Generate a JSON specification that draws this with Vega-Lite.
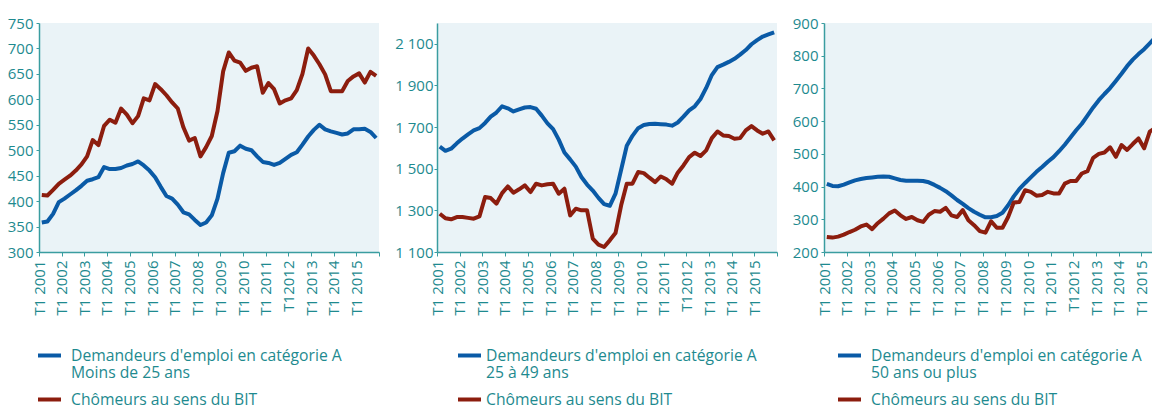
{
 "$schema": "https://vega.github.io/schema/vega-lite/v6.json",
 "padding": {"top": 16, "left": 0, "right": 0, "bottom": 0},
 "autosize": {"type": "pad"},
 "background": "white",
 "spacing": 0,
 "config": {
  "font": "Open Sans",
  "view": {"fill": "#eaf3f7", "stroke": null},
  "axis": {"labelColor": "#1e8a8f", "labelFont": "Open Sans", "labelFontSize": 15, "domainColor": "#3a9da0", "tickColor": "#3a9da0", "domainWidth": 1.5, "grid": false, "title": null},
  "legend": {"labelColor": "#1e8a8f", "labelFont": "Open Sans", "labelFontSize": 15.7, "symbolType": "stroke", "symbolSize": 529, "symbolStrokeWidth": 4, "labelLimit": 0, "rowPadding": 5, "padding": 0, "title": null, "direction": "vertical", "orient": "none", "legendY": 319},
  "line": {"strokeWidth": 4, "strokeJoin": "round"}
 },
 "datasets": {
  "p1": [
   {"s":"A","q":"2001-01-01","v":358},{"s":"A","q":"2001-04-01","v":360},{"s":"A","q":"2001-07-01","v":375},{"s":"A","q":"2001-10-01","v":398},
   {"s":"A","q":"2002-01-01","v":405},{"s":"A","q":"2002-04-01","v":413},{"s":"A","q":"2002-07-01","v":421},{"s":"A","q":"2002-10-01","v":430},
   {"s":"A","q":"2003-01-01","v":440},{"s":"A","q":"2003-04-01","v":443},{"s":"A","q":"2003-07-01","v":447},{"s":"A","q":"2003-10-01","v":467},
   {"s":"A","q":"2004-01-01","v":463},{"s":"A","q":"2004-04-01","v":463},{"s":"A","q":"2004-07-01","v":465},{"s":"A","q":"2004-10-01","v":470},
   {"s":"A","q":"2005-01-01","v":473},{"s":"A","q":"2005-04-01","v":478},{"s":"A","q":"2005-07-01","v":470},{"s":"A","q":"2005-10-01","v":460},
   {"s":"A","q":"2006-01-01","v":447},{"s":"A","q":"2006-04-01","v":428},{"s":"A","q":"2006-07-01","v":410},{"s":"A","q":"2006-10-01","v":405},
   {"s":"A","q":"2007-01-01","v":393},{"s":"A","q":"2007-04-01","v":378},{"s":"A","q":"2007-07-01","v":374},{"s":"A","q":"2007-10-01","v":363},
   {"s":"A","q":"2008-01-01","v":353},{"s":"A","q":"2008-04-01","v":358},{"s":"A","q":"2008-07-01","v":372},{"s":"A","q":"2008-10-01","v":405},
   {"s":"A","q":"2009-01-01","v":455},{"s":"A","q":"2009-04-01","v":495},{"s":"A","q":"2009-07-01","v":498},{"s":"A","q":"2009-10-01","v":509},
   {"s":"A","q":"2010-01-01","v":503},{"s":"A","q":"2010-04-01","v":500},{"s":"A","q":"2010-07-01","v":488},{"s":"A","q":"2010-10-01","v":477},
   {"s":"A","q":"2011-01-01","v":475},{"s":"A","q":"2011-04-01","v":471},{"s":"A","q":"2011-07-01","v":475},{"s":"A","q":"2011-10-01","v":483},
   {"s":"A","q":"2012-01-01","v":491},{"s":"A","q":"2012-04-01","v":496},{"s":"A","q":"2012-07-01","v":511},{"s":"A","q":"2012-10-01","v":527},
   {"s":"A","q":"2013-01-01","v":540},{"s":"A","q":"2013-04-01","v":550},{"s":"A","q":"2013-07-01","v":541},{"s":"A","q":"2013-10-01","v":537},
   {"s":"A","q":"2014-01-01","v":534},{"s":"A","q":"2014-04-01","v":531},{"s":"A","q":"2014-07-01","v":533},{"s":"A","q":"2014-10-01","v":541},
   {"s":"A","q":"2015-01-01","v":541},{"s":"A","q":"2015-04-01","v":542},{"s":"A","q":"2015-07-01","v":536},{"s":"A","q":"2015-10-01","v":524},
   {"s":"BIT","q":"2001-01-01","v":412},{"s":"BIT","q":"2001-04-01","v":411},{"s":"BIT","q":"2001-07-01","v":422},{"s":"BIT","q":"2001-10-01","v":434},
   {"s":"BIT","q":"2002-01-01","v":442},{"s":"BIT","q":"2002-04-01","v":450},{"s":"BIT","q":"2002-07-01","v":460},{"s":"BIT","q":"2002-10-01","v":472},
   {"s":"BIT","q":"2003-01-01","v":488},{"s":"BIT","q":"2003-04-01","v":520},{"s":"BIT","q":"2003-07-01","v":510},{"s":"BIT","q":"2003-10-01","v":548},
   {"s":"BIT","q":"2004-01-01","v":560},{"s":"BIT","q":"2004-04-01","v":554},{"s":"BIT","q":"2004-07-01","v":582},{"s":"BIT","q":"2004-10-01","v":570},
   {"s":"BIT","q":"2005-01-01","v":553},{"s":"BIT","q":"2005-04-01","v":567},{"s":"BIT","q":"2005-07-01","v":602},{"s":"BIT","q":"2005-10-01","v":598},
   {"s":"BIT","q":"2006-01-01","v":630},{"s":"BIT","q":"2006-04-01","v":620},{"s":"BIT","q":"2006-07-01","v":608},{"s":"BIT","q":"2006-10-01","v":594},
   {"s":"BIT","q":"2007-01-01","v":582},{"s":"BIT","q":"2007-04-01","v":545},{"s":"BIT","q":"2007-07-01","v":519},{"s":"BIT","q":"2007-10-01","v":524},
   {"s":"BIT","q":"2008-01-01","v":488},{"s":"BIT","q":"2008-04-01","v":506},{"s":"BIT","q":"2008-07-01","v":528},{"s":"BIT","q":"2008-10-01","v":577},
   {"s":"BIT","q":"2009-01-01","v":655},{"s":"BIT","q":"2009-04-01","v":692},{"s":"BIT","q":"2009-07-01","v":676},{"s":"BIT","q":"2009-10-01","v":672},
   {"s":"BIT","q":"2010-01-01","v":656},{"s":"BIT","q":"2010-04-01","v":662},{"s":"BIT","q":"2010-07-01","v":665},{"s":"BIT","q":"2010-10-01","v":613},
   {"s":"BIT","q":"2011-01-01","v":632},{"s":"BIT","q":"2011-04-01","v":620},{"s":"BIT","q":"2011-07-01","v":592},{"s":"BIT","q":"2011-10-01","v":598},
   {"s":"BIT","q":"2012-01-01","v":602},{"s":"BIT","q":"2012-04-01","v":618},{"s":"BIT","q":"2012-07-01","v":650},{"s":"BIT","q":"2012-10-01","v":700},
   {"s":"BIT","q":"2013-01-01","v":686},{"s":"BIT","q":"2013-04-01","v":669},{"s":"BIT","q":"2013-07-01","v":649},{"s":"BIT","q":"2013-10-01","v":616},
   {"s":"BIT","q":"2014-01-01","v":616},{"s":"BIT","q":"2014-04-01","v":616},{"s":"BIT","q":"2014-07-01","v":636},{"s":"BIT","q":"2014-10-01","v":645},
   {"s":"BIT","q":"2015-01-01","v":651},{"s":"BIT","q":"2015-04-01","v":633},{"s":"BIT","q":"2015-07-01","v":654},{"s":"BIT","q":"2015-10-01","v":646}
  ],
  "p2": [
   {"s":"A","q":"2001-01-01","v":1606},{"s":"A","q":"2001-04-01","v":1586},{"s":"A","q":"2001-07-01","v":1596},{"s":"A","q":"2001-10-01","v":1622},
   {"s":"A","q":"2002-01-01","v":1645},{"s":"A","q":"2002-04-01","v":1665},{"s":"A","q":"2002-07-01","v":1684},{"s":"A","q":"2002-10-01","v":1695},
   {"s":"A","q":"2003-01-01","v":1720},{"s":"A","q":"2003-04-01","v":1750},{"s":"A","q":"2003-07-01","v":1770},{"s":"A","q":"2003-10-01","v":1800},
   {"s":"A","q":"2004-01-01","v":1790},{"s":"A","q":"2004-04-01","v":1775},{"s":"A","q":"2004-07-01","v":1785},{"s":"A","q":"2004-10-01","v":1794},
   {"s":"A","q":"2005-01-01","v":1796},{"s":"A","q":"2005-04-01","v":1788},{"s":"A","q":"2005-07-01","v":1755},{"s":"A","q":"2005-10-01","v":1718},
   {"s":"A","q":"2006-01-01","v":1690},{"s":"A","q":"2006-04-01","v":1640},{"s":"A","q":"2006-07-01","v":1578},{"s":"A","q":"2006-10-01","v":1545},
   {"s":"A","q":"2007-01-01","v":1510},{"s":"A","q":"2007-04-01","v":1460},{"s":"A","q":"2007-07-01","v":1424},{"s":"A","q":"2007-10-01","v":1395},
   {"s":"A","q":"2008-01-01","v":1360},{"s":"A","q":"2008-04-01","v":1330},{"s":"A","q":"2008-07-01","v":1322},{"s":"A","q":"2008-10-01","v":1380},
   {"s":"A","q":"2009-01-01","v":1495},{"s":"A","q":"2009-04-01","v":1610},{"s":"A","q":"2009-07-01","v":1658},{"s":"A","q":"2009-10-01","v":1695},
   {"s":"A","q":"2010-01-01","v":1710},{"s":"A","q":"2010-04-01","v":1715},{"s":"A","q":"2010-07-01","v":1716},{"s":"A","q":"2010-10-01","v":1714},
   {"s":"A","q":"2011-01-01","v":1712},{"s":"A","q":"2011-04-01","v":1707},{"s":"A","q":"2011-07-01","v":1722},{"s":"A","q":"2011-10-01","v":1750},
   {"s":"A","q":"2012-01-01","v":1780},{"s":"A","q":"2012-04-01","v":1800},{"s":"A","q":"2012-07-01","v":1835},{"s":"A","q":"2012-10-01","v":1888},
   {"s":"A","q":"2013-01-01","v":1950},{"s":"A","q":"2013-04-01","v":1988},{"s":"A","q":"2013-07-01","v":2000},{"s":"A","q":"2013-10-01","v":2013},
   {"s":"A","q":"2014-01-01","v":2028},{"s":"A","q":"2014-04-01","v":2048},{"s":"A","q":"2014-07-01","v":2070},{"s":"A","q":"2014-10-01","v":2098},
   {"s":"A","q":"2015-01-01","v":2118},{"s":"A","q":"2015-04-01","v":2135},{"s":"A","q":"2015-07-01","v":2145},{"s":"A","q":"2015-10-01","v":2155},
   {"s":"BIT","q":"2001-01-01","v":1284},{"s":"BIT","q":"2001-04-01","v":1262},{"s":"BIT","q":"2001-07-01","v":1257},{"s":"BIT","q":"2001-10-01","v":1268},
   {"s":"BIT","q":"2002-01-01","v":1268},{"s":"BIT","q":"2002-04-01","v":1264},{"s":"BIT","q":"2002-07-01","v":1260},{"s":"BIT","q":"2002-10-01","v":1271},
   {"s":"BIT","q":"2003-01-01","v":1364},{"s":"BIT","q":"2003-04-01","v":1359},{"s":"BIT","q":"2003-07-01","v":1332},{"s":"BIT","q":"2003-10-01","v":1383},
   {"s":"BIT","q":"2004-01-01","v":1415},{"s":"BIT","q":"2004-04-01","v":1385},{"s":"BIT","q":"2004-07-01","v":1401},{"s":"BIT","q":"2004-10-01","v":1420},
   {"s":"BIT","q":"2005-01-01","v":1388},{"s":"BIT","q":"2005-04-01","v":1428},{"s":"BIT","q":"2005-07-01","v":1420},{"s":"BIT","q":"2005-10-01","v":1425},
   {"s":"BIT","q":"2006-01-01","v":1428},{"s":"BIT","q":"2006-04-01","v":1380},{"s":"BIT","q":"2006-07-01","v":1404},{"s":"BIT","q":"2006-10-01","v":1276},
   {"s":"BIT","q":"2007-01-01","v":1308},{"s":"BIT","q":"2007-04-01","v":1300},{"s":"BIT","q":"2007-07-01","v":1300},{"s":"BIT","q":"2007-10-01","v":1164},
   {"s":"BIT","q":"2008-01-01","v":1135},{"s":"BIT","q":"2008-04-01","v":1124},{"s":"BIT","q":"2008-07-01","v":1156},{"s":"BIT","q":"2008-10-01","v":1191},
   {"s":"BIT","q":"2009-01-01","v":1324},{"s":"BIT","q":"2009-04-01","v":1428},{"s":"BIT","q":"2009-07-01","v":1428},{"s":"BIT","q":"2009-10-01","v":1484},
   {"s":"BIT","q":"2010-01-01","v":1479},{"s":"BIT","q":"2010-04-01","v":1457},{"s":"BIT","q":"2010-07-01","v":1436},{"s":"BIT","q":"2010-10-01","v":1463},
   {"s":"BIT","q":"2011-01-01","v":1449},{"s":"BIT","q":"2011-04-01","v":1428},{"s":"BIT","q":"2011-07-01","v":1481},{"s":"BIT","q":"2011-10-01","v":1516},
   {"s":"BIT","q":"2012-01-01","v":1556},{"s":"BIT","q":"2012-04-01","v":1577},{"s":"BIT","q":"2012-07-01","v":1561},{"s":"BIT","q":"2012-10-01","v":1588},
   {"s":"BIT","q":"2013-01-01","v":1647},{"s":"BIT","q":"2013-04-01","v":1679},{"s":"BIT","q":"2013-07-01","v":1660},{"s":"BIT","q":"2013-10-01","v":1657},
   {"s":"BIT","q":"2014-01-01","v":1644},{"s":"BIT","q":"2014-04-01","v":1647},{"s":"BIT","q":"2014-07-01","v":1684},{"s":"BIT","q":"2014-10-01","v":1705},
   {"s":"BIT","q":"2015-01-01","v":1684},{"s":"BIT","q":"2015-04-01","v":1668},{"s":"BIT","q":"2015-07-01","v":1679},{"s":"BIT","q":"2015-10-01","v":1636}
  ],
  "p3": [
   {"s":"A","q":"2001-01-01","v":408},{"s":"A","q":"2001-04-01","v":402},{"s":"A","q":"2001-07-01","v":401},{"s":"A","q":"2001-10-01","v":406},
   {"s":"A","q":"2002-01-01","v":413},{"s":"A","q":"2002-04-01","v":419},{"s":"A","q":"2002-07-01","v":423},{"s":"A","q":"2002-10-01","v":426},
   {"s":"A","q":"2003-01-01","v":428},{"s":"A","q":"2003-04-01","v":430},{"s":"A","q":"2003-07-01","v":431},{"s":"A","q":"2003-10-01","v":430},
   {"s":"A","q":"2004-01-01","v":425},{"s":"A","q":"2004-04-01","v":420},{"s":"A","q":"2004-07-01","v":418},{"s":"A","q":"2004-10-01","v":418},
   {"s":"A","q":"2005-01-01","v":418},{"s":"A","q":"2005-04-01","v":417},{"s":"A","q":"2005-07-01","v":413},{"s":"A","q":"2005-10-01","v":405},
   {"s":"A","q":"2006-01-01","v":396},{"s":"A","q":"2006-04-01","v":386},{"s":"A","q":"2006-07-01","v":373},{"s":"A","q":"2006-10-01","v":359},
   {"s":"A","q":"2007-01-01","v":347},{"s":"A","q":"2007-04-01","v":334},{"s":"A","q":"2007-07-01","v":323},{"s":"A","q":"2007-10-01","v":314},
   {"s":"A","q":"2008-01-01","v":306},{"s":"A","q":"2008-04-01","v":306},{"s":"A","q":"2008-07-01","v":310},{"s":"A","q":"2008-10-01","v":320},
   {"s":"A","q":"2009-01-01","v":343},{"s":"A","q":"2009-04-01","v":370},{"s":"A","q":"2009-07-01","v":393},{"s":"A","q":"2009-10-01","v":411},
   {"s":"A","q":"2010-01-01","v":428},{"s":"A","q":"2010-04-01","v":445},{"s":"A","q":"2010-07-01","v":460},{"s":"A","q":"2010-10-01","v":476},
   {"s":"A","q":"2011-01-01","v":490},{"s":"A","q":"2011-04-01","v":508},{"s":"A","q":"2011-07-01","v":528},{"s":"A","q":"2011-10-01","v":550},
   {"s":"A","q":"2012-01-01","v":572},{"s":"A","q":"2012-04-01","v":592},{"s":"A","q":"2012-07-01","v":617},{"s":"A","q":"2012-10-01","v":642},
   {"s":"A","q":"2013-01-01","v":664},{"s":"A","q":"2013-04-01","v":683},{"s":"A","q":"2013-07-01","v":701},{"s":"A","q":"2013-10-01","v":723},
   {"s":"A","q":"2014-01-01","v":745},{"s":"A","q":"2014-04-01","v":768},{"s":"A","q":"2014-07-01","v":788},{"s":"A","q":"2014-10-01","v":805},
   {"s":"A","q":"2015-01-01","v":820},{"s":"A","q":"2015-04-01","v":838},{"s":"A","q":"2015-07-01","v":856},{"s":"A","q":"2015-10-01","v":872},
   {"s":"BIT","q":"2001-01-01","v":246},{"s":"BIT","q":"2001-04-01","v":244},{"s":"BIT","q":"2001-07-01","v":247},{"s":"BIT","q":"2001-10-01","v":253},
   {"s":"BIT","q":"2002-01-01","v":261},{"s":"BIT","q":"2002-04-01","v":268},{"s":"BIT","q":"2002-07-01","v":278},{"s":"BIT","q":"2002-10-01","v":284},
   {"s":"BIT","q":"2003-01-01","v":270},{"s":"BIT","q":"2003-04-01","v":288},{"s":"BIT","q":"2003-07-01","v":302},{"s":"BIT","q":"2003-10-01","v":318},
   {"s":"BIT","q":"2004-01-01","v":327},{"s":"BIT","q":"2004-04-01","v":312},{"s":"BIT","q":"2004-07-01","v":301},{"s":"BIT","q":"2004-10-01","v":307},
   {"s":"BIT","q":"2005-01-01","v":297},{"s":"BIT","q":"2005-04-01","v":292},{"s":"BIT","q":"2005-07-01","v":314},{"s":"BIT","q":"2005-10-01","v":325},
   {"s":"BIT","q":"2006-01-01","v":323},{"s":"BIT","q":"2006-04-01","v":335},{"s":"BIT","q":"2006-07-01","v":312},{"s":"BIT","q":"2006-10-01","v":307},
   {"s":"BIT","q":"2007-01-01","v":328},{"s":"BIT","q":"2007-04-01","v":297},{"s":"BIT","q":"2007-07-01","v":282},{"s":"BIT","q":"2007-10-01","v":264},
   {"s":"BIT","q":"2008-01-01","v":259},{"s":"BIT","q":"2008-04-01","v":294},{"s":"BIT","q":"2008-07-01","v":274},{"s":"BIT","q":"2008-10-01","v":274},
   {"s":"BIT","q":"2009-01-01","v":307},{"s":"BIT","q":"2009-04-01","v":351},{"s":"BIT","q":"2009-07-01","v":353},{"s":"BIT","q":"2009-10-01","v":389},
   {"s":"BIT","q":"2010-01-01","v":384},{"s":"BIT","q":"2010-04-01","v":372},{"s":"BIT","q":"2010-07-01","v":374},{"s":"BIT","q":"2010-10-01","v":384},
   {"s":"BIT","q":"2011-01-01","v":379},{"s":"BIT","q":"2011-04-01","v":379},{"s":"BIT","q":"2011-07-01","v":409},{"s":"BIT","q":"2011-10-01","v":417},
   {"s":"BIT","q":"2012-01-01","v":417},{"s":"BIT","q":"2012-04-01","v":440},{"s":"BIT","q":"2012-07-01","v":447},{"s":"BIT","q":"2012-10-01","v":488},
   {"s":"BIT","q":"2013-01-01","v":500},{"s":"BIT","q":"2013-04-01","v":504},{"s":"BIT","q":"2013-07-01","v":520},{"s":"BIT","q":"2013-10-01","v":491},
   {"s":"BIT","q":"2014-01-01","v":527},{"s":"BIT","q":"2014-04-01","v":512},{"s":"BIT","q":"2014-07-01","v":530},{"s":"BIT","q":"2014-10-01","v":547},
   {"s":"BIT","q":"2015-01-01","v":517},{"s":"BIT","q":"2015-04-01","v":568},{"s":"BIT","q":"2015-07-01","v":580},{"s":"BIT","q":"2015-10-01","v":586}
  ]
 },
 "hconcat": [
  {
   "width": 340, "height": 229,
   "data": {"name": "p1"},
   "mark": {"type": "line"},
   "encoding": {
    "x": {"field": "q", "type": "temporal", "timeUnit": "utcyearquarter", "bandPosition": 0.5,
     "scale": {"domain": [{"year": 2001, "utc": true}, {"year": 2016, "utc": true}]},
     "axis": {"values": [{"year":2001,"utc":true},{"year":2002,"utc":true},{"year":2003,"utc":true},{"year":2004,"utc":true},{"year":2005,"utc":true},{"year":2006,"utc":true},{"year":2007,"utc":true},{"year":2008,"utc":true},{"year":2009,"utc":true},{"year":2010,"utc":true},{"year":2011,"utc":true},{"year":2012,"utc":true},{"year":2013,"utc":true},{"year":2014,"utc":true},{"year":2015,"utc":true},{"year":2016,"utc":true}],
      "labelAngle": -90, "labelOverlap": false, "labelFlush": false, "tickSize": 4, "labelPadding": 4,
      "labelFontSize": {"condition": {"test": "utcyear(datum.value) == 2016", "value": 0}, "value": 15},
      "labelExpr": "utcyear(datum.value) == 2016 ? '' : (utcyear(datum.value) == 2012 ? 'T12012' : 'T1 ' + utcyear(datum.value))"}},
    "y": {"field": "v", "type": "quantitative", "scale": {"domain": [300, 750], "nice": false, "zero": false},
     "axis": {"values": [300,350,400,450,500,550,600,650,700,750], "minExtent": 39, "tickSize": 3, "labelPadding": 3}},
    "color": {"field": "s", "type": "nominal", "scale": {"domain": ["A", "BIT"], "range": ["#0a5aa6", "#8c1d0e"]},
     "legend": {"legendX": -3, "labelOffset": 8,
      "labelExpr": "datum.value == 'A' ? [\"Demandeurs d'emploi en catégorie A\", 'Moins de 25 ans'] : 'Chômeurs au sens du BIT'",
      "encode": {"labels": {"update": {"lineHeight": {"value": 19}}}}}}
   }
  },
  {
   "width": 340, "height": 229,
   "data": {"name": "p2"},
   "mark": {"type": "line"},
   "encoding": {
    "x": {"field": "q", "type": "temporal", "timeUnit": "utcyearquarter", "bandPosition": 0.5,
     "scale": {"domain": [{"year": 2001, "utc": true}, {"year": 2016, "utc": true}]},
     "axis": {"values": [{"year":2001,"utc":true},{"year":2002,"utc":true},{"year":2003,"utc":true},{"year":2004,"utc":true},{"year":2005,"utc":true},{"year":2006,"utc":true},{"year":2007,"utc":true},{"year":2008,"utc":true},{"year":2009,"utc":true},{"year":2010,"utc":true},{"year":2011,"utc":true},{"year":2012,"utc":true},{"year":2013,"utc":true},{"year":2014,"utc":true},{"year":2015,"utc":true},{"year":2016,"utc":true}],
      "labelAngle": -90, "labelOverlap": false, "labelFlush": false, "tickSize": 4, "labelPadding": 4,
      "labelFontSize": {"condition": {"test": "utcyear(datum.value) == 2016", "value": 0}, "value": 15},
      "labelExpr": "utcyear(datum.value) == 2016 ? '' : (utcyear(datum.value) == 2012 ? 'T12012' : 'T1 ' + utcyear(datum.value))"}},
    "y": {"field": "v", "type": "quantitative", "scale": {"domain": [1100, 2200], "nice": false, "zero": false},
     "axis": {"values": [1100,1300,1500,1700,1900,2100], "minExtent": 57, "tickSize": 3, "labelPadding": 1,
      "labelExpr": "replace(format(datum.value, ','), ',', ' ')"}},
    "color": {"field": "s", "type": "nominal", "scale": {"domain": ["A", "BIT"], "range": ["#0a5aa6", "#8c1d0e"]},
     "legend": {"legendX": 19, "labelOffset": 3,
      "labelExpr": "datum.value == 'A' ? [\"Demandeurs d'emploi en catégorie A\", '25 à 49 ans'] : 'Chômeurs au sens du BIT'",
      "encode": {"labels": {"update": {"lineHeight": {"value": 19}}}}}}
   }
  },
  {
   "width": 340, "height": 229,
   "data": {"name": "p3"},
   "mark": {"type": "line"},
   "encoding": {
    "x": {"field": "q", "type": "temporal", "timeUnit": "utcyearquarter", "bandPosition": 0.5,
     "scale": {"domain": [{"year": 2001, "utc": true}, {"year": 2016, "utc": true}]},
     "axis": {"values": [{"year":2001,"utc":true},{"year":2002,"utc":true},{"year":2003,"utc":true},{"year":2004,"utc":true},{"year":2005,"utc":true},{"year":2006,"utc":true},{"year":2007,"utc":true},{"year":2008,"utc":true},{"year":2009,"utc":true},{"year":2010,"utc":true},{"year":2011,"utc":true},{"year":2012,"utc":true},{"year":2013,"utc":true},{"year":2014,"utc":true},{"year":2015,"utc":true},{"year":2016,"utc":true}],
      "labelAngle": -90, "labelOverlap": false, "labelFlush": false, "tickSize": 4, "labelPadding": 4,
      "labelFontSize": {"condition": {"test": "utcyear(datum.value) == 2016", "value": 0}, "value": 15},
      "labelExpr": "utcyear(datum.value) == 2016 ? '' : (utcyear(datum.value) == 2012 ? 'T12012' : 'T1 ' + utcyear(datum.value))"}},
    "y": {"field": "v", "type": "quantitative", "scale": {"domain": [200, 900], "nice": false, "zero": false},
     "axis": {"values": [200,300,400,500,600,700,800,900], "minExtent": 46, "tickSize": 3, "labelPadding": 3}},
    "color": {"field": "s", "type": "nominal", "scale": {"domain": ["A", "BIT"], "range": ["#0a5aa6", "#8c1d0e"]},
     "legend": {"legendX": 12, "labelOffset": 8,
      "labelExpr": "datum.value == 'A' ? [\"Demandeurs d'emploi en catégorie A\", '50 ans ou plus'] : 'Chômeurs au sens du BIT'",
      "encode": {"labels": {"update": {"lineHeight": {"value": 19}}}}}}
   }
  }
 ],
 "resolve": {"scale": {"color": "independent", "y": "independent", "x": "independent"}, "legend": {"color": "independent"}}
}
